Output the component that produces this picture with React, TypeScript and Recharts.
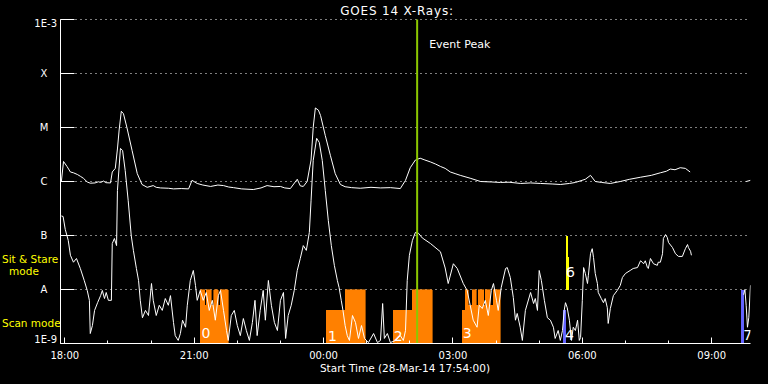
import React from 'react';
import {
  ComposedChart,
  Line,
  Scatter,
  XAxis,
  YAxis,
  CartesianGrid,
  ReferenceArea,
  ReferenceLine,
} from 'recharts';

// time = hours after 18:00 on 28-Mar-14, flux in W/m^2
const longFlux: [number, number][] = [
  [-0.08, 1.0e-6], [-0.03, 2.35e-6], [0.05, 1.9e-6], [0.13, 1.5e-6], [0.2, 1.45e-6],
  [0.29, 1.35e-6], [0.36, 1.25e-6], [0.43, 1.15e-6], [0.52, 9.8e-7], [0.59, 9.3e-7],
  [0.7, 9.4e-7], [0.78, 9.9e-7], [0.83, 9.6e-7], [0.9, 1.02e-6], [0.95, 9.5e-7], [1.06, 9.4e-7],
  [1.1, 1.5e-6], [1.17, 1.75e-6], [1.22, 4.0e-6], [1.26, 9.0e-6], [1.31, 2.0e-5],
  [1.36, 1.8e-5], [1.44, 1.0e-5], [1.56, 3.75e-6], [1.68, 1.4e-6], [1.79, 8.8e-7],
  [1.91, 7.8e-7], [2.05, 8.4e-7], [2.12, 7.8e-7], [2.22, 7.6e-7], [2.4, 7.5e-7], [2.52, 7.3e-7],
  [2.7, 7.4e-7], [2.87, 7.3e-7], [2.95, 1.05e-6], [3.07, 9.2e-7], [3.2, 8.6e-7], [3.38, 8.1e-7],
  [3.55, 8.6e-7], [3.68, 8.4e-7], [3.8, 7.9e-7], [3.91, 7.7e-7], [4.1, 7.3e-7], [4.37, 7.1e-7],
  [4.55, 7.6e-7], [4.69, 8.4e-7], [4.85, 8.0e-7], [5.0, 8.1e-7], [5.1, 7.6e-7], [5.23, 7.4e-7],
  [5.39, 1.1e-6], [5.46, 8.3e-7], [5.53, 8.1e-7], [5.62, 1.0e-6], [5.71, 2.5e-6],
  [5.76, 1.0e-5], [5.81, 2.3e-5], [5.88, 2.1e-5], [5.93, 1.67e-5], [6.04, 7.1e-6],
  [6.16, 3.0e-6], [6.27, 1.4e-6], [6.39, 8.8e-7], [6.5, 8.0e-7], [6.65, 7.7e-7], [6.85, 7.5e-7],
  [7.1, 7.8e-7], [7.32, 7.6e-7], [7.55, 7.7e-7], [7.78, 7.4e-7], [7.9, 1.05e-6],
  [8.01, 1.8e-6], [8.13, 2.5e-6], [8.24, 2.7e-6], [8.35, 2.5e-6], [8.48, 2.3e-6], [8.6, 2.1e-6],
  [8.71, 1.9e-6], [8.82, 1.75e-6], [8.94, 1.5e-6], [9.05, 1.4e-6], [9.17, 1.3e-6], [9.4, 1.15e-6],
  [9.64, 1.0e-6], [9.9, 9.8e-7], [10.1, 9.6e-7], [10.3, 9.7e-7], [10.57, 9.2e-7], [10.8, 9.4e-7],
  [11.03, 9.2e-7], [11.3, 9.0e-7], [11.49, 8.8e-7], [11.7, 9.2e-7], [11.84, 9.6e-7],
  [12.07, 1.1e-6], [12.19, 1.3e-6], [12.3, 1.0e-6], [12.45, 9.6e-7], [12.65, 9.2e-7],
  [12.88, 1.0e-6], [13.1, 1.1e-6], [13.35, 1.2e-6], [13.6, 1.3e-6], [13.81, 1.45e-6],
  [13.95, 1.55e-6], [14.04, 1.7e-6], [14.15, 1.65e-6], [14.27, 1.8e-6], [14.39, 1.75e-6],
  [14.5, 1.5e-6],
];
const longTail: [number, number][] = [[15.8, 1.0e-6], [15.9, 1.05e-6]];

const shortFlux: [number, number][] = [
  [-0.08, 2.3e-7], [-0.04, 2.25e-7], [0.01, 1.3e-7], [0.08, 8.1e-8], [0.13, 4.3e-8],
  [0.2, 3.2e-8], [0.27, 3.75e-8], [0.36, 2.45e-8], [0.45, 1.47e-8], [0.52, 9.6e-9],
  [0.57, 6.3e-9], [0.59, 1.53e-9], [0.64, 2.15e-9], [0.69, 4.1e-9], [0.76, 5.7e-9],
  [0.83, 7.7e-9], [0.87, 9.6e-9], [0.92, 6.8e-9], [0.96, 8.8e-9], [1.01, 6.3e-9],
  [1.08, 6.3e-9], [1.1, 7.1e-8], [1.15, 8.8e-8], [1.2, 6.5e-8], [1.22, 6.8e-7],
  [1.29, 4.1e-6], [1.34, 3.75e-6], [1.4, 1.6e-6], [1.47, 4.4e-7], [1.54, 1.0e-7],
  [1.59, 5.3e-8], [1.66, 2.45e-8], [1.71, 1.47e-8], [1.75, 6.3e-9], [1.8, 3.0e-9],
  [1.87, 4.1e-9], [1.94, 3.3e-9], [2.01, 1.29e-8], [2.05, 6.3e-9], [2.12, 3.3e-9],
  [2.19, 5.1e-9], [2.26, 4.1e-9], [2.33, 6.8e-9], [2.4, 5.1e-9], [2.45, 7.7e-9],
  [2.52, 2.45e-9], [2.56, 1.4e-9], [2.63, 1.14e-9], [2.68, 1.53e-9], [2.73, 2.7e-9],
  [2.8, 2.0e-9], [2.84, 5.1e-9], [2.91, 1.47e-8], [2.98, 2.25e-8], [3.03, 1.19e-8],
  [3.07, 6.3e-9], [3.14, 9.6e-9], [3.21, 6.3e-9], [3.28, 8.8e-9], [3.35, 4.1e-9],
  [3.42, 6.3e-9], [3.49, 2.7e-9], [3.56, 7.7e-9], [3.61, 9.6e-9], [3.68, 4.1e-9],
  [3.75, 1.74e-9], [3.79, 1.14e-9], [3.86, 3.3e-9], [3.93, 4.1e-9], [4.0, 2.15e-9],
  [4.07, 1.4e-9], [4.14, 2.9e-9], [4.21, 1.74e-9], [4.28, 1.14e-9], [4.35, 2.45e-9],
  [4.41, 6.3e-9], [4.46, 1.4e-9], [4.53, 4.1e-9], [4.6, 9.6e-9], [4.65, 2.7e-9],
  [4.72, 1.47e-8], [4.79, 5.1e-9], [4.86, 2.45e-9], [4.93, 1.74e-9], [5.0, 6.3e-9],
  [5.07, 8.8e-9], [5.12, 1.24e-9], [5.18, 3.3e-9], [5.25, 5.1e-9], [5.32, 9.6e-9],
  [5.39, 2.25e-8], [5.46, 3.75e-8], [5.53, 6.5e-8], [5.6, 5.3e-8], [5.67, 1.14e-7],
  [5.71, 4.4e-7], [5.76, 2.45e-6], [5.84, 6.3e-6], [5.9, 5.3e-6], [5.97, 2.45e-6],
  [6.04, 6.8e-7], [6.11, 1.9e-7], [6.18, 6.5e-8], [6.25, 2.8e-8], [6.32, 1.47e-8],
  [6.36, 1.09e-8], [6.41, 6.3e-9], [6.45, 4.1e-9], [6.5, 2.15e-9], [6.55, 1.4e-9],
  [6.6, 1.14e-9], [6.67, 3.3e-9], [6.74, 2.45e-9], [6.81, 1.24e-9], [6.88, 2.15e-9],
  [6.95, 1.24e-9], [7.04, 1.04e-9], [7.16, 1.53e-9], [7.25, 1.04e-9], [7.32, 1.14e-9],
  [7.37, 5.5e-9], [7.41, 1.24e-9], [7.48, 1.53e-9], [7.55, 1.04e-9], [7.67, 1.14e-9],
  [7.78, 1.4e-9], [7.85, 1.14e-9], [7.9, 1.74e-9], [7.94, 1.47e-8], [7.99, 4.3e-8],
  [8.06, 8.1e-8], [8.13, 1.14e-7], [8.2, 1.1e-7], [8.29, 9.0e-8], [8.48, 7.1e-8],
  [8.71, 5.0e-8], [8.82, 2.5e-8], [8.89, 1.29e-8], [9.01, 3.0e-8], [9.1, 2.45e-8],
  [9.24, 1.29e-8], [9.33, 9.6e-9], [9.4, 5.1e-9], [9.47, 2.7e-9], [9.56, 2.0e-9],
  [9.61, 5.1e-9], [9.68, 4.45e-9], [9.75, 6.3e-9], [9.82, 3.3e-9], [9.89, 9.6e-9],
  [9.94, 1.29e-8], [10.01, 6.3e-9], [10.05, 4.1e-9], [10.12, 1.09e-8], [10.22, 2.45e-8],
  [10.26, 2.55e-8], [10.33, 1.67e-8], [10.4, 7.1e-9], [10.45, 2.7e-9], [10.49, 3.6e-9],
  [10.56, 2.0e-9], [10.61, 1.14e-9], [10.68, 4.1e-9], [10.8, 8.8e-9], [10.87, 5.5e-9],
  [10.91, 6.8e-9], [10.96, 4.1e-9], [11.0, 2.25e-8], [11.05, 1.47e-8], [11.12, 6.3e-9],
  [11.19, 3.0e-9], [11.26, 2.7e-9], [11.33, 2.0e-9], [11.37, 1.24e-9], [11.44, 1.74e-9],
  [11.49, 1.14e-9], [11.54, 1.74e-9], [11.58, 4.1e-9], [11.61, 5.7e-9], [11.65, 4.6e-9],
  [11.7, 2.7e-9], [11.75, 1.14e-9], [11.79, 2.0e-9], [11.84, 1.74e-9], [11.89, 2.7e-9],
  [11.93, 1.14e-9], [11.96, 1.29e-9], [12.0, 6.3e-9], [12.03, 2.55e-8], [12.07, 1.98e-8],
  [12.12, 1.29e-8], [12.14, 1.8e-8], [12.19, 4.6e-8], [12.23, 5.7e-8], [12.26, 3.9e-8],
  [12.3, 1.98e-8], [12.35, 1.29e-8], [12.37, 8.8e-9], [12.44, 6.8e-9], [12.49, 5.7e-9],
  [12.53, 6.8e-9], [12.58, 4.6e-9], [12.6, 2.35e-9], [12.65, 4.45e-9], [12.72, 7.7e-9],
  [12.81, 9.6e-9], [12.88, 1.19e-8], [12.93, 1.67e-8], [13.0, 1.98e-8], [13.11, 2.25e-8],
  [13.18, 2.45e-8], [13.28, 2.55e-8], [13.35, 3.4e-8], [13.39, 3.2e-8], [13.42, 3.0e-8],
  [13.46, 3.4e-8], [13.51, 2.55e-8], [13.53, 2.45e-8], [13.58, 3.75e-8], [13.65, 3.0e-8],
  [13.74, 2.8e-8], [13.76, 3.2e-8], [13.81, 3.2e-8], [13.86, 4.6e-8], [13.88, 8.8e-8],
  [13.93, 1.04e-7], [13.97, 9.2e-8], [14.0, 7.4e-8], [14.09, 6.0e-8], [14.16, 4.6e-8],
  [14.23, 4.1e-8], [14.32, 4.1e-8], [14.39, 5.7e-8], [14.44, 6.8e-8], [14.46, 6.0e-8],
  [14.51, 5.1e-8], [14.53, 4.3e-8],
];
const shortTail: [number, number][] = [
  [15.74, 8.0e-9], [15.77, 1.0e-8], [15.8, 5.0e-9], [15.83, 2.0e-9], [15.86, 3.0e-9], [15.9, 1.2e-8],
];

// scan mode blocks: [start, end, top], bottom at 1E-9
const scanBlocks: [number, number, number][] = [
  [3.14, 3.24, 1e-8], [3.24, 3.28, 5.1e-9], [3.28, 3.4, 1e-8], [3.4, 3.45, 5.1e-9],
  [3.45, 3.56, 1e-8], [3.56, 3.61, 5.1e-9], [3.61, 3.79, 1e-8],
  [6.06, 6.5, 4.1e-9], [6.5, 6.97, 1e-8],
  [7.62, 8.06, 4.1e-9], [8.06, 8.52, 1e-8],
  [9.22, 9.29, 4.1e-9], [9.29, 9.36, 1e-8], [9.36, 9.45, 5.1e-9], [9.45, 9.54, 1e-8],
  [9.54, 9.59, 5.1e-9], [9.59, 9.71, 1e-8], [9.71, 9.75, 5.1e-9], [9.75, 9.87, 1e-8],
  [9.87, 9.94, 5.1e-9], [9.94, 10.1, 1e-8],
];
// sit & stare: [start, end, bottom, top]
const stareBlocks: [number, number, number, number][] = [
  [11.62, 11.66, 1e-8, 1e-7], [11.62, 11.69, 1e-8, 3.96e-8],
];
const otherBlocks: [number, number, number, number][] = [
  [11.56, 11.63, 1e-9, 4.1e-9], [15.69, 15.76, 1e-9, 1e-8],
];
const blockLabels: [number, number, string][] = [
  [3.17, 1.24e-9, '0'], [6.1, 1.09e-9, '1'], [7.63, 1.09e-9, '2'], [9.23, 1.24e-9, '3'],
  [11.6, 1.14e-9, '4'], [11.62, 1.67e-8, '6'], [15.73, 1.14e-9, '7'],
];
const eventPeak = 8.17;

const levelTicks = [1e-9, 1e-8, 1e-7, 1e-6, 1e-5, 1e-4, 1e-3];
const levelNames = ['1E-9', 'A', 'B', 'C', 'M', 'X', '1E-3'];
const hourTicks = [0, 1, 2, 3, 4, 5, 6, 7, 8, 9, 10, 11, 12, 13, 14, 15];
const hourLabels = ['18:00', '21:00', '00:00', '03:00', '06:00', '09:00'];

const LEFT = 60.5;
const RIGHT = 750.5;
const TOP = 19.5;
const BOTTOM = 343.5;
const font = '"DejaVu Sans", sans-serif';

const toPoints = (rows: [number, number][]) => rows.map(([h, flux]) => ({ h, flux }));

const LeftTick = ({ y, payload }: any) => {
  const i = Math.round(Math.log10(payload.value)) + 9;
  const name = levelNames[i];
  const edge = name.startsWith('1E');
  const dy = name === '1E-3' ? 4 : name === '1E-9' ? -4 : 0;
  const yy = Math.round(y - 0.5) + 0.5;
  return (
    <g>
      <line x1={LEFT} x2={LEFT + 14} y1={yy} y2={yy} stroke="#fff" />
      <text
        x={edge ? 57 : 44}
        y={y + dy}
        dy="0.36em"
        textAnchor={edge ? 'end' : 'middle'}
        fill="#ffffff"
        stroke="none"
        fontSize={10}
        fontFamily={font}
      >
        {name}
      </text>
    </g>
  );
};

const RightTick = ({ y }: any) => {
  const yy = Math.round(y - 0.5) + 0.5;
  return <line x1={RIGHT - 14} x2={RIGHT} y1={yy} y2={yy} stroke="#fff" />;
};

const BottomTick = ({ x, payload }: any) => {
  const major = payload.value % 3 === 0;
  const xx = Math.round(x - 0.5) + 0.5;
  return (
    <g>
      <line x1={xx} x2={xx} y1={BOTTOM} y2={BOTTOM - (major ? 6 : 3)} stroke="#fff" />
      {major && (
        <text x={x} y={359} textAnchor="middle" fill="#fff" fontSize={10} fontFamily={font}>
          {hourLabels[payload.value / 3]}
        </text>
      )}
    </g>
  );
};

const TopTick = ({ x, payload }: any) => {
  const major = payload.value % 3 === 0;
  const xx = Math.round(x - 0.5) + 0.5;
  return <line x1={xx} x2={xx} y1={TOP} y2={TOP + (major ? 6 : 3)} stroke="#fff" />;
};

const DigitLabel = (props: any) => (
  <text x={props.cx} y={props.cy} fill="#fff" fontSize={14} fontFamily={font}>
    {props.payload.text}
  </text>
);

export default function App() {
  const labelPoints = blockLabels.map(([h, flux, text]) => ({ h, flux, text }));

  return (
    <div style={{ position: 'absolute', left: 0, top: 0, width: 768, height: 384, background: '#000' }}>
      <ComposedChart width={768} height={384} margin={{ top: TOP, right: 768 - RIGHT, bottom: 0, left: 0 }}>
        <CartesianGrid vertical={false} stroke="#fff" strokeDasharray="1 4" />
        <XAxis
          type="number"
          dataKey="h"
          domain={[-0.1, 15.9]}
          allowDataOverflow
          ticks={hourTicks}
          interval={0}
          tick={<BottomTick />}
          tickLine={false}
          axisLine={{ stroke: '#fff' }}
          height={384 - BOTTOM}
        />
        <XAxis
          xAxisId="top"
          orientation="top"
          type="number"
          dataKey="h"
          domain={[-0.1, 15.9]}
          allowDataOverflow
          ticks={hourTicks}
          interval={0}
          tick={<TopTick />}
          tickLine={false}
          axisLine={{ stroke: '#fff' }}
          height={0}
        />
        <YAxis
          type="number"
          scale="log"
          domain={[1e-9, 1e-3]}
          allowDataOverflow
          ticks={levelTicks}
          interval={0}
          tick={<LeftTick />}
          tickLine={false}
          axisLine={{ stroke: '#fff' }}
          width={LEFT}
        />
        <YAxis
          yAxisId="right"
          orientation="right"
          type="number"
          scale="log"
          domain={[1e-9, 1e-3]}
          allowDataOverflow
          ticks={levelTicks}
          interval={0}
          tick={<RightTick />}
          tickLine={false}
          axisLine={{ stroke: '#fff' }}
          width={0}
        />

        {scanBlocks.map(([x1, x2, top], i) => (
          <ReferenceArea
            key={'s' + i}
            x1={x1}
            x2={x2}
            y1={1e-9}
            y2={top}
            fill="#ff8000"
            fillOpacity={1}
            stroke="#ff8000"
            strokeWidth={0.6}
            shapeRendering="crispEdges"
          />
        ))}
        {stareBlocks.map(([x1, x2, y1, y2], i) => (
          <ReferenceArea key={'y' + i} x1={x1} x2={x2} y1={y1} y2={y2} fill="#ffff00" fillOpacity={1} strokeWidth={0} shapeRendering="crispEdges" />
        ))}
        {otherBlocks.map(([x1, x2, y1, y2], i) => (
          <ReferenceArea key={'b' + i} x1={x1} x2={x2} y1={y1} y2={y2} fill="#6464ff" fillOpacity={1} strokeWidth={0} shapeRendering="crispEdges" />
        ))}

        <Line data={toPoints(shortFlux)} dataKey="flux" stroke="#fff" strokeWidth={1} dot={false} isAnimationActive={false} />
        <Line data={toPoints(shortTail)} dataKey="flux" stroke="#fff" strokeWidth={1} dot={false} isAnimationActive={false} />
        <Line data={toPoints(longFlux)} dataKey="flux" stroke="#fff" strokeWidth={1} dot={false} isAnimationActive={false} />
        <Line data={toPoints(longTail)} dataKey="flux" stroke="#fff" strokeWidth={1} dot={false} isAnimationActive={false} />

        <ReferenceLine
          x={eventPeak}
          stroke="#8cc800"
          strokeWidth={2}
          label={({ viewBox }: any) => (
            <text x={viewBox.x + 12} y={viewBox.y + 28} fill="#fff" fontSize={11} fontFamily={font}>
              Event Peak
            </text>
          )}
        />

        <Scatter data={labelPoints} dataKey="flux" shape={<DigitLabel />} isAnimationActive={false} />
      </ComposedChart>

      <svg width={768} height={384} style={{ position: 'absolute', left: 0, top: 0, pointerEvents: 'none' }}>
        <text x={397} y={15} textAnchor="middle" fill="#fff" fontSize={12} letterSpacing={0.8} fontFamily={font}>
          GOES 14 X-Rays:
        </text>
        <text x={405} y={372} textAnchor="middle" fill="#fff" fontSize={10.5} fontFamily={font}>
          Start Time (28-Mar-14 17:54:00)
        </text>
        <text x={2} y={263} fill="#ffff00" fontSize={10.5} fontFamily={font}>
          Sit &amp; Stare
        </text>
        <text x={24} y={275} textAnchor="middle" fill="#ffff00" fontSize={10.5} fontFamily={font}>
          mode
        </text>
        <text x={2} y={327} fill="#ffff00" fontSize={10.5} fontFamily={font}>
          Scan mode
        </text>
      </svg>
    </div>
  );
}
